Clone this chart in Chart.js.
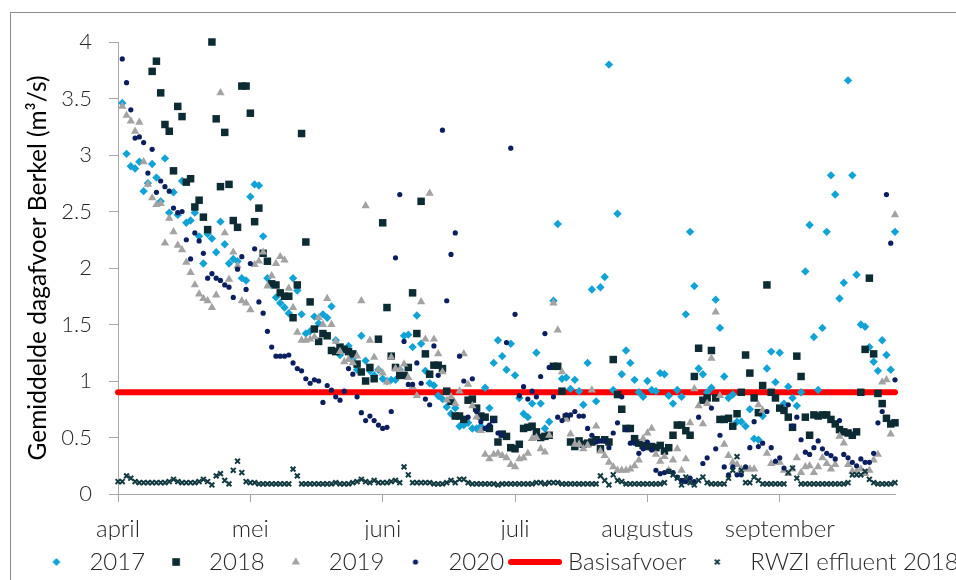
<!DOCTYPE html>
<html>
<head>
<meta charset="utf-8">
<script src="https://cdn.jsdelivr.net/npm/chart.js@4/dist/chart.umd.min.js"></script>
<style>
  html, body { margin: 0; padding: 0; background: #fff; overflow: hidden; }
  #wrap { position: relative; width: 956px; height: 580px; }
  #kader { position: absolute; left: 10px; top: 12px; width: 980px; height: 600px; border: 1px solid #8c8c8c; box-sizing: border-box; }
  #grafiek { position: absolute; left: 0; top: 0; }
</style>
</head>
<body>
<div id="wrap">
  <div id="kader"></div>
  <canvas id="grafiek" width="956" height="580"></canvas>
</div>
<script>
// maanden op de x-as (dagnummer vanaf 1 april)
const maanden = ["april", "mei", "juni", "juli", "augustus", "september"];
const maandStart = [0, 31, 62, 93, 124, 155];
const yTicks = [0, 0.5, 1, 1.5, 2, 2.5, 3, 3.5, 4];
const basisafvoer = 0.9;

// gemiddelde dagafvoer Berkel (m3/s), 1 april t/m eind september
const afvoer2017 = [
  3.46,3.01,2.90,2.88,2.94,2.68,2.75,2.92,2.80,2.59,
  2.97,2.49,2.67,2.47,2.77,2.40,2.42,2.49,2.28,2.04,
  2.30,2.26,2.14,2.41,2.21,2.04,2.08,2.06,1.91,1.89,
  2.63,2.74,2.73,2.28,1.91,1.85,1.74,1.69,1.65,1.60,
  1.91,1.80,1.59,1.42,1.44,1.57,1.51,1.59,1.56,1.66,
  1.36,1.23,1.28,1.31,1.20,1.10,1.40,1.18,1.09,1.05,
  1.10,1.02,1.00,1.01,1.01,1.10,1.40,1.41,1.30,1.58,
  1.33,1.09,0.98,0.96,0.87,0.84,0.77,0.71,0.76,0.60,
  0.61,0.63,0.58,0.58,0.60,0.94,0.76,1.16,1.36,1.22,
  1.10,1.33,1.05,0.85,0.71,0.68,0.80,1.25,0.80,0.58,
  0.64,1.71,2.39,1.02,1.03,0.93,1.01,0.91,0.79,1.16,
  1.81,0.82,1.83,1.92,3.80,0.92,2.48,1.06,1.27,1.16,
  1.01,0.90,0.86,1.00,0.92,0.91,1.07,1.06,0.87,0.80,
  0.92,0.86,1.59,2.32,1.84,1.11,1.06,0.90,0.94,1.72,
  1.47,1.04,0.85,0.88,0.64,0.64,0.60,0.75,0.49,0.48,
  0.69,1.11,1.26,0.99,1.25,0.80,0.95,0.85,0.78,0.90,
  1.97,2.38,1.39,0.92,1.47,2.32,2.82,2.65,1.73,1.87,
  3.66,2.82,1.94,1.50,1.48,1.30,1.17,1.09,1.36,1.23,
  1.10,2.32
];
const afvoer2018 = [
  null,null,null,null,null,null,null,3.74,3.83,3.55,
  3.27,3.21,2.86,3.43,3.34,2.76,2.79,2.54,2.60,2.45,
  2.34,4.00,3.32,2.72,3.20,2.74,2.42,2.36,3.61,3.61,
  3.37,2.41,2.53,2.13,2.06,1.86,1.85,1.78,1.75,1.75,
  1.56,1.85,3.19,2.23,1.70,1.46,1.35,1.42,1.40,1.27,
  1.26,1.30,1.28,1.26,1.24,1.15,1.08,1.00,1.12,1.02,
  1.37,2.40,1.65,1.22,1.12,1.05,1.05,1.12,1.78,1.42,
  2.59,1.24,1.06,1.14,1.14,1.11,0.91,0.82,0.69,0.69,
  0.66,0.83,0.84,0.76,0.69,0.68,0.58,0.66,0.46,0.53,
  0.51,0.41,0.40,0.44,0.58,0.59,0.60,0.55,0.50,0.51,
  0.52,1.13,1.13,0.91,0.68,0.46,0.42,0.47,0.44,0.45,
  0.46,0.48,0.40,0.48,0.46,1.19,0.88,0.75,0.58,0.58,
  0.49,0.45,0.43,0.42,0.42,0.41,0.43,0.38,0.41,0.52,
  0.61,0.61,0.56,0.52,1.04,1.29,0.83,0.85,1.27,0.85,
  0.66,0.66,0.67,0.60,0.71,0.90,1.23,1.07,0.85,0.72,
  0.96,1.85,0.90,0.85,0.76,0.74,0.68,0.59,1.22,1.04,
  0.68,0.52,0.70,0.69,0.70,0.70,0.66,0.62,0.57,0.55,
  0.54,0.52,0.55,0.90,1.28,1.91,1.24,0.89,0.80,0.67,
  0.62,0.63
];
const afvoer2019 = [
  3.43,3.35,3.30,3.21,3.29,2.94,2.74,2.62,2.56,2.57,
  2.22,2.44,2.32,2.20,2.16,2.05,1.96,1.85,1.77,1.73,
  1.71,1.65,1.76,3.55,2.31,1.90,2.14,2.02,1.71,1.69,
  1.63,2.03,2.06,2.14,1.84,1.93,2.04,2.10,2.07,1.82,
  1.65,1.43,1.36,1.36,1.37,1.39,1.56,1.50,1.73,1.50,
  1.35,1.26,1.17,1.19,1.16,1.22,1.71,2.55,1.36,1.21,
  1.10,1.07,0.99,1.21,1.11,1.10,1.15,1.03,0.95,0.87,
  1.70,1.37,2.66,1.37,1.24,1.08,0.83,0.86,0.80,0.91,
  1.24,0.97,0.78,0.68,0.56,0.35,0.31,0.35,0.36,0.34,
  0.32,0.26,0.24,0.31,0.32,0.36,0.49,0.50,0.40,0.37,
  0.52,1.69,1.45,1.08,0.66,0.53,0.44,0.44,0.40,0.43,
  0.92,0.60,0.38,0.34,0.28,0.24,0.21,0.21,0.21,0.22,
  0.25,0.30,0.49,0.54,0.58,0.35,0.29,0.33,0.21,0.30,
  0.40,0.21,0.31,0.63,0.93,0.78,0.62,0.80,1.20,1.61,
  0.87,0.44,0.34,0.28,0.26,0.22,0.22,0.22,0.22,0.79,
  0.74,0.36,0.27,0.28,0.28,0.21,0.18,0.22,0.32,0.19,
  0.24,0.25,0.19,0.24,0.32,0.27,0.22,0.26,0.51,0.45,
  0.26,0.20,0.20,0.22,0.18,0.21,0.30,0.35,0.99,1.01,
  0.53,2.47
];
const afvoer2020 = [
  3.85,3.64,3.40,3.15,3.16,3.11,2.84,3.05,2.67,2.77,
  2.72,2.68,2.53,2.49,2.50,2.25,2.08,2.31,2.24,2.13,
  1.91,1.95,1.91,1.89,1.85,1.83,1.74,1.99,2.10,1.81,
  2.04,2.17,1.70,1.60,1.44,1.30,1.22,1.22,1.22,1.23,
  1.16,1.11,1.09,1.02,0.98,1.01,1.00,0.81,0.96,0.92,
  0.86,0.83,0.91,1.11,1.06,0.86,0.72,0.65,0.69,0.65,
  0.61,0.58,0.59,0.73,2.09,2.65,1.35,0.97,0.97,1.16,
  0.98,0.84,0.79,1.31,1.05,3.22,1.71,2.12,2.31,1.22,
  1.00,0.68,1.02,0.73,0.64,0.58,0.61,0.65,0.54,0.52,
  1.34,3.06,1.59,0.87,0.95,0.84,0.91,0.86,1.04,1.42,
  1.12,0.86,0.68,0.65,0.70,0.70,0.73,0.69,0.69,0.58,
  0.52,0.46,0.47,0.47,0.41,0.54,0.63,0.86,0.57,0.45,
  0.45,0.36,0.40,0.46,0.39,0.21,0.18,0.19,0.20,0.19,
  0.15,0.12,0.11,0.14,0.11,0.68,0.27,0.32,0.76,0.40,
  0.52,0.24,0.17,0.24,0.17,0.17,0.24,0.41,0.64,0.42,
  0.45,0.73,0.41,0.29,0.32,0.23,0.79,0.60,0.68,0.48,
  0.37,0.35,0.41,0.47,0.40,0.36,0.34,0.31,0.65,0.35,
  0.32,0.28,0.25,0.31,0.28,0.28,0.36,0.63,0.73,2.65,
  2.22,1.01,0.75
];
// RWZI effluent 2018 begint een dag eerder
const rwzi2018 = [
  0.11,0.11,0.16,0.14,0.11,0.10,0.10,0.10,0.10,0.10,
  0.10,0.10,0.11,0.13,0.11,0.10,0.10,0.10,0.10,0.11,
  0.13,0.11,0.08,0.16,0.18,0.12,0.09,0.21,0.29,0.19,
  0.11,0.10,0.10,0.09,0.09,0.09,0.09,0.09,0.09,0.09,
  0.09,0.22,0.16,0.09,0.09,0.09,0.09,0.09,0.09,0.09,
  0.09,0.10,0.09,0.09,0.09,0.10,0.11,0.13,0.11,0.10,
  0.12,0.10,0.10,0.10,0.11,0.12,0.10,0.24,0.17,0.10,
  0.10,0.10,0.10,0.10,0.09,0.09,0.09,0.10,0.12,0.10,
  0.13,0.13,0.10,0.09,0.09,0.09,0.09,0.09,0.09,0.08,
  0.09,0.09,0.09,0.09,0.09,0.09,0.09,0.09,0.10,0.10,
  0.09,0.10,0.10,0.10,0.09,0.09,0.09,0.09,0.09,0.09,
  0.09,0.09,0.09,0.16,0.12,0.08,0.17,0.12,0.11,0.09,
  0.09,0.09,0.09,0.09,0.09,0.09,0.09,0.09,0.10,0.20,
  0.17,0.14,0.08,0.15,0.10,0.08,0.12,0.15,0.10,0.09,
  0.09,0.09,0.09,0.14,0.21,0.33,0.21,0.10,0.10,0.15,
  0.12,0.09,0.09,0.09,0.09,0.09,0.09,0.19,0.23,0.14,
  0.09,0.09,0.09,0.09,0.09,0.09,0.09,0.09,0.09,0.09,
  0.09,0.10,0.17,0.17,0.17,0.20,0.13,0.10,0.09,0.09,
  0.09,0.09,0.10
];

const kleur2017 = "#12a3d6";
const kleur2018 = "#0d2b33";
const kleur2019 = "#a3a3a3";
const kleur2020 = "#0b1f5e";
const kleurRwzi = "#123a40";
const asKleur = "#a6a6a6";
const letter = "Lato, 'Open Sans', sans-serif";

const punten = (reeks, start) => reeks.map((v, i) => ({ x: i + start, y: v }));

// kleine tekens voor de legenda
function teken(stijl, kleur, straal, dikte) {
  const c = document.createElement("canvas");
  c.width = 14; c.height = 14;
  const ctx = c.getContext("2d");
  ctx.fillStyle = kleur;
  ctx.strokeStyle = kleur;
  ctx.lineWidth = dikte;
  Chart.helpers.drawPoint(ctx, { pointStyle: stijl, radius: straal, borderWidth: dikte }, 7, 7);
  return c;
}
function lijnTeken(kleur) {
  const c = document.createElement("canvas");
  c.width = 54; c.height = 8;
  const ctx = c.getContext("2d");
  ctx.strokeStyle = kleur;
  ctx.lineWidth = 6;
  ctx.lineCap = "round";
  ctx.beginPath();
  ctx.moveTo(3, 4);
  ctx.lineTo(51, 4);
  ctx.stroke();
  return c;
}
const legendaTekens = [
  teken("rectRot", kleur2017, 4, 0),
  teken("rect", kleur2018, 5.4, 0),
  teken("triangle", kleur2019, 4.8, 0),
  teken("circle", kleur2020, 2.6, 0),
  lijnTeken("#ff0000"),
  teken("crossRot", kleurRwzi, 3.4, 2)
];

const ctx = document.getElementById("grafiek").getContext("2d");
new Chart(ctx, {
  type: "scatter",
  data: {
    datasets: [
      { label: "2017", data: punten(afvoer2017, 1), pointStyle: "rectRot", pointRadius: 4.2,
        backgroundColor: kleur2017, borderColor: kleur2017, borderWidth: 0, order: 6 },
      { label: "2018", data: punten(afvoer2018, 1), pointStyle: "rect", pointRadius: 5.3,
        backgroundColor: kleur2018, borderColor: kleur2018, borderWidth: 0, order: 5 },
      { label: "2019", data: punten(afvoer2019, 1), pointStyle: "triangle", pointRadius: 4.8,
        backgroundColor: kleur2019, borderColor: kleur2019, borderWidth: 0, order: 4 },
      { label: "2020", data: punten(afvoer2020, 1), pointStyle: "circle", pointRadius: 2.6,
        backgroundColor: kleur2020, borderColor: kleur2020, borderWidth: 0, order: 3 },
      { label: "Basisafvoer", type: "line", data: [{ x: 0, y: basisafvoer }, { x: 182, y: basisafvoer }],
        borderColor: "#ff0000", backgroundColor: "#ff0000", borderWidth: 6, borderCapStyle: "round",
        pointRadius: 0, fill: false, order: 7 },
      { label: "RWZI effluent 2018", data: punten(rwzi2018, 0), pointStyle: "crossRot", pointRadius: 3.4,
        backgroundColor: kleurRwzi, borderColor: kleurRwzi, borderWidth: 2, order: 2 }
    ].map(d => Object.assign({ clip: false }, d))
  },
  options: {
    responsive: false,
    devicePixelRatio: 1,
    animation: false,
    events: [],
    layout: { padding: { top: 42, left: 12, right: -26, bottom: -4 } },
    plugins: {
      tooltip: { enabled: false },
      legend: {
        position: "bottom",
        labels: {
          usePointStyle: true,
          pointStyleWidth: 42,
          padding: 10,
          color: "#262626",
          font: { family: letter, size: 24, weight: 300 },
          sort: (a, b) => a.datasetIndex - b.datasetIndex,
          generateLabels: chart => Chart.defaults.plugins.legend.labels.generateLabels(chart)
            .map(item => Object.assign(item, { pointStyle: legendaTekens[item.datasetIndex] }))
        }
      }
    },
    scales: {
      x: {
        type: "linear",
        min: 0,
        max: 182,
        afterBuildTicks: s => { s.ticks = maandStart.map(v => ({ value: v })); },
        afterFit: s => { s.height = 46; },
        grid: { drawOnChartArea: false, tickLength: 8, color: asKleur },
        border: { color: asKleur, width: 1 },
        ticks: {
          autoSkip: false, maxRotation: 0, padding: 13, color: "#262626",
          font: { family: letter, size: 24, weight: 300 },
          callback: v => maanden[maandStart.indexOf(v)]
        }
      },
      y: {
        min: 0,
        max: 4,
        afterBuildTicks: s => { s.ticks = yTicks.map(v => ({ value: v })); },
        afterFit: s => { s.width = 106; },
        grid: { drawOnChartArea: false, tickLength: 9, color: asKleur },
        border: { color: asKleur, width: 1 },
        ticks: {
          padding: 17, color: "#262626",
          font: { family: letter, size: 22, weight: 300 },
          callback: v => String(v)
        },
        title: {
          display: true,
          text: "Gemiddelde dagafvoer Berkel (m³/s)",
          color: "#000",
          font: { family: letter, size: 24.5, weight: 400 },
          padding: { top: 11, bottom: 0 }
        }
      },
      rechts: {
        type: "linear",
        axis: "y",
        position: "right",
        grid: { display: false },
        border: { display: false },
        ticks: { display: false },
        afterFit: s => { s.width = 87; }
      }
    }
  }
});
</script>
</body>
</html>
